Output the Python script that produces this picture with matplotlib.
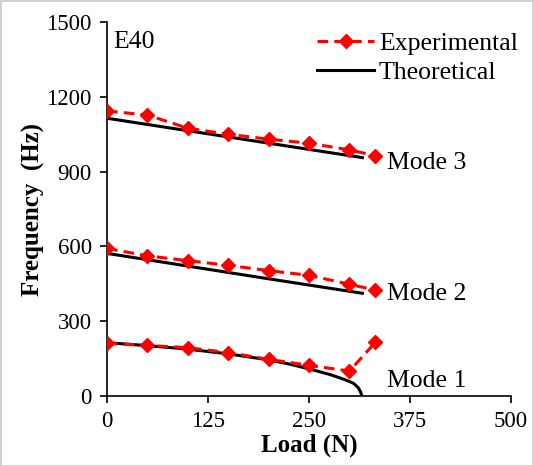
import matplotlib
matplotlib.use("Agg")
import matplotlib.pyplot as plt

plt.rcParams['font.family'] = ['Liberation Serif', 'DejaVu Serif']
plt.rcParams['font.size'] = 16

# measured natural frequencies (Hz) vs axial load (N)
load_exp = [0, 50, 100, 150, 200, 250, 300, 332]
mode1_exp = [211, 203, 194, 174, 147, 123, 100, 215]
mode2_exp = [592, 562, 543, 524, 503, 484, 448, 425]
mode3_exp = [1143, 1127, 1074, 1050, 1030, 1014, 987, 964]

# predicted curves
load_th1 = [0, 50, 100, 150, 200, 226, 251, 276, 295, 305, 311, 314, 315.3]
mode1_th = [214, 202, 188, 169, 145, 128, 108, 86, 65, 51, 33, 15, 0]
load_th = [0, 100, 200, 316]
mode2_th = [572, 521, 470, 412]
mode3_th = [1114, 1064, 1014, 956]

mode_labels = ["Mode 1", "Mode 2", "Mode 3"]

fig = plt.figure(figsize=(5.33, 4.66), dpi=100)
fig.patch.set_edgecolor('#d0d0d0')
fig.patch.set_linewidth(2)
ax = fig.add_axes([0.2008, 0.1502, 0.758, 0.8026])

red = '#ff0000'
for i, ys in enumerate([mode1_exp, mode2_exp, mode3_exp]):
    ax.plot(load_exp, ys, color=red, lw=2.2, dashes=(3.5, 2), marker='D',
            markersize=7.5, label='Experimental' if i == 0 else None, zorder=3)
ax.plot(load_th1, mode1_th, color='black', lw=2.2, label='Theoretical')
ax.plot(load_th, mode2_th, color='black', lw=2.2)
ax.plot(load_th, mode3_th, color='black', lw=2.2)

fs = 18.5
ax.text(347, 62, mode_labels[0], ha='left', va='center', fontsize=fs)
ax.text(347, 408, mode_labels[1], ha='left', va='center', fontsize=fs)
ax.text(347, 933, mode_labels[2], ha='left', va='center', fontsize=fs)
ax.text(8, 1420, "E40", ha='left', va='center', fontsize=fs)

ax.set_xlim(0, 500)
ax.set_ylim(0, 1500)
ax.set_xticks([0, 125, 250, 375, 500])
ax.set_yticks([0, 300, 600, 900, 1200, 1500])
ax.spines['top'].set_visible(False)
ax.spines['right'].set_visible(False)
ax.spines['left'].set_linewidth(1.2)
ax.spines['bottom'].set_linewidth(1.2)
ax.tick_params(direction='out', length=5, width=1.2, pad=6, labelsize=16.5)

ax.set_xlabel("Load (N)", fontweight='bold', fontsize=18, labelpad=1)
ax.set_ylabel("Frequency  (Hz)", fontweight='bold', fontsize=18, labelpad=1)

ax.legend(loc='upper right', bbox_to_anchor=(1.055, 1.015), frameon=False,
          fontsize=fs, handlelength=2.2, handletextpad=0.2, labelspacing=0.25,
          borderaxespad=0.2)

fig.savefig("out.png", dpi=100)
